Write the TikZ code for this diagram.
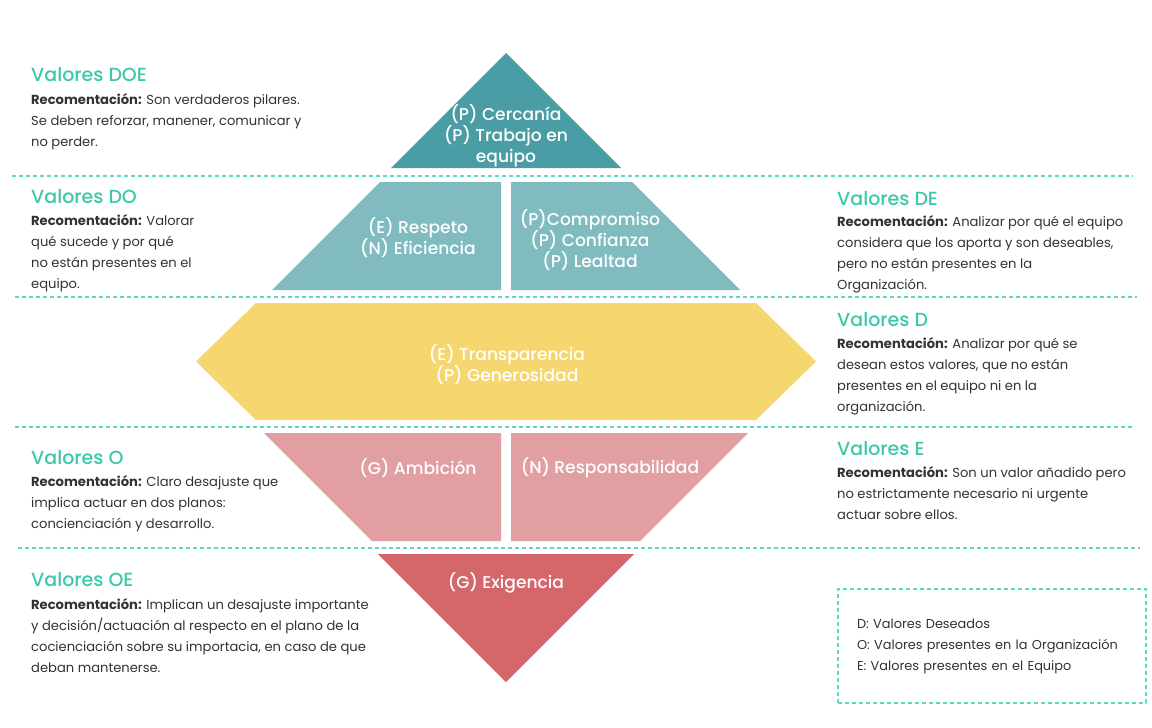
\documentclass[tikz,border=0pt]{standalone}
\usepackage{fontspec}
\setmainfont{Poppins}
\newfontfamily\medio{Poppins Medium}
\usetikzlibrary{positioning}

\definecolor{tealO}{HTML}{4A9DA4}
\definecolor{tealC}{HTML}{80BCBF}
\definecolor{amarillo}{HTML}{F6D66F}
\definecolor{rosa}{HTML}{E29FA2}
\definecolor{rojo}{HTML}{D5666A}
\definecolor{turquesa}{HTML}{3DC8AA}
\definecolor{punteado}{HTML}{5FD8C5}
\definecolor{texto}{HTML}{333333}

\begin{document}
\begin{tikzpicture}[x=1pt, y=-1pt,
    titulo/.style={anchor=west, inner sep=0, text=turquesa, font=\medio\fontsize{19}{21}\selectfont},
    cuerpo/.style={anchor=north west, inner sep=0, text=texto, align=left, font=\fontsize{13.1}{21}\selectfont},
    valor/.style={inner sep=0, text=white, align=center, font=\medio\fontsize{17.1}{21}\selectfont},
    sep/.style={punteado, line width=1.3pt, dash pattern=on 4pt off 3pt}]
            \useasboundingbox (0,0) rectangle (1152,728);
            \fill[white] (0,0) rectangle (1152,728);

            % Formas
            \fill[tealO] (506,53) -- (621,168) -- (391,168) -- cycle;
            \fill[tealC] (380,182) -- (501,182) -- (501,290) -- (272,290) -- cycle;
            \fill[tealC] (511,182) -- (632,182) -- (740,290) -- (511,290) -- cycle;
            \fill[amarillo] (256,303) -- (756,303) -- (816,361.5) -- (756,420) -- (256,420) -- (196,361.5) -- cycle;
            \fill[rosa] (264,433) -- (501,433) -- (501,541) -- (372,541) -- cycle;
            \fill[rosa] (511,433) -- (748,433) -- (640,541) -- (511,541) -- cycle;
            \fill[rojo] (378,554) -- (634,554) -- (506,682) -- cycle;

            % Lineas
            \draw[sep] (12,176) -- (1133,176);
            \draw[sep] (15,297) -- (1137,297);
            \draw[sep] (15,427) -- (1135,427);
            \draw[sep] (18,548) -- (1140,548);

            % Valores
            \node[valor] (cercania) at (506,136) {(P) Cercanía\\(P) Trabajo en\\equipo};
            \node[valor] (respeto) at (418,238) {(E) Respeto\\(N) Eficiencia};
            \node[valor] (compromiso) at (590,240) {(P)Compromiso\\(P) Confianza\\(P) Lealtad};
            \node[valor] (transparencia) at (507,365) {(E) Transparencia\\(P) Generosidad};
            \node[valor] (ambicion) at (418,468) {(G) Ambición};
            \node[valor] (responsabilidad) at (610,468) {(N) Responsabilidad};
            \node[valor] (exigencia) at (506,583) {(G) Exigencia};

            % Textos
            \node[titulo] (doeT) at (31,75) {Valores DOE};
            \node[cuerpo] (doeR) at (31,93) {\textbf{Recomentación:} Son verdaderos pilares.\\Se deben reforzar, manener, comunicar y\\no perder.};
            \node[titulo] (doT) at (31,197) {Valores DO};
            \node[cuerpo] (doR) at (31,214) {\textbf{Recomentación:} Valorar\\qué sucede y por qué\\no están presentes en el\\equipo.};
            \node[titulo] (deT) at (837,199) {Valores DE};
            \node[cuerpo] (deR) at (837,215) {\textbf{Recomentación:} Analizar por qué el equipo\\considera que los aporta y son deseables,\\pero no están presentes en la\\Organización.};
            \node[titulo] (dT) at (837,320) {Valores D};
            \node[cuerpo] (dR) at (837,337) {\textbf{Recomentación:} Analizar por qué se\\desean estos valores, que no están\\presentes en el equipo ni en la\\organización.};
            \node[titulo] (oT) at (31,458) {Valores O};
            \node[cuerpo] (oR) at (31,475) {\textbf{Recomentación:} Claro desajuste que\\implica actuar en dos planos:\\concienciación y desarrollo.};
            \node[titulo] (eT) at (837,449) {Valores E};
            \node[cuerpo] (eR) at (837,466) {\textbf{Recomentación:} Son un valor añadido pero\\no estrictamente necesario ni urgente\\actuar sobre ellos.};
            \node[titulo] (oeT) at (31,580) {Valores OE};
            \node[cuerpo] (oeR) at (31,598) {\textbf{Recomentación:} Implican un desajuste importante\\y decisión/actuación al respecto en el plano de la\\cocienciación sobre su importacia, en caso de que\\deban mantenerse.};

            % Leyenda
            \node[draw=punteado, line width=1.3pt, dash pattern=on 4pt off 3pt, text=texto, align=left,
                  text width=270pt, inner xsep=19pt, minimum height=114pt,
                  font=\fontsize{12.9}{21}\selectfont] (leyenda) at (992,646)
                  {D: Valores Deseados\\O: Valores presentes en la Organización\\E: Valores presentes en el Equipo};
          \end{tikzpicture}
\end{document}
